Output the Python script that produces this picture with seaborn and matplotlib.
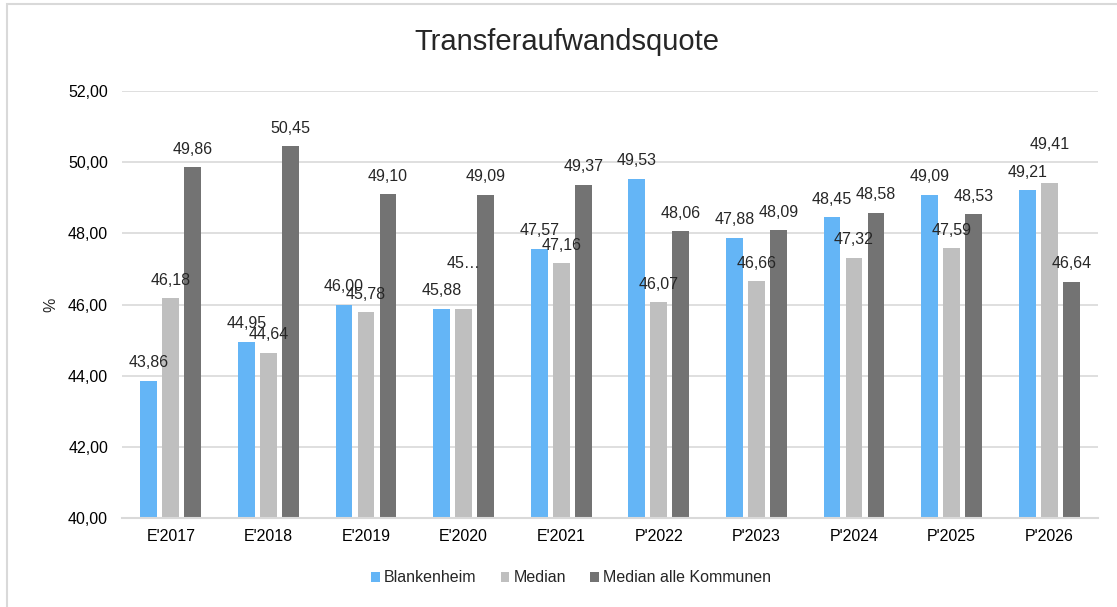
import pandas as pd
import numpy as np
import matplotlib.pyplot as plt
import seaborn as sns
from matplotlib.patches import Patch, Rectangle

# values
jahre = ["E'2017", "E'2018", "E'2019", "E'2020", "E'2021",
         "P'2022", "P'2023", "P'2024", "P'2025", "P'2026"]
blankenheim = [43.86, 44.95, 46.00, 45.88, 47.57, 49.53, 47.88, 48.45, 49.09, 49.21]
median = [46.18, 44.64, 45.78, 45.88, 47.16, 46.07, 46.66, 47.32, 47.59, 49.41]
median_alle = [49.86, 50.45, 49.10, 49.09, 49.37, 48.06, 48.09, 48.58, 48.53, 46.64]
serien = ["Blankenheim", "Median", "Median alle Kommunen"]
farben = ["#64B5F6", "#BFBFBF", "#737373"]

df = pd.DataFrame({
    "Jahr": jahre * 3,
    "Wert": blankenheim + median + median_alle,
    "Serie": np.repeat(serien, len(jahre)),
})

sns.set_style("white")
plt.rcParams['font.family'] = ['Liberation Sans', 'DejaVu Sans']

fig, ax = plt.subplots(figsize=(11.17, 6.07), dpi=100)
fig.subplots_adjust(left=122 / 1117, right=1098 / 1117, top=1 - 91 / 607, bottom=1 - 518 / 607)

sns.barplot(data=df, x="Jahr", y="Wert", hue="Serie", palette=farben, saturation=1,
            width=0.676, gap=0.23, linewidth=0, legend=False, ax=ax)

ax.set_ylim(40, 52)
ax.set_yticks(np.arange(40, 53, 2))
ax.set_yticklabels([f"{v:.2f}".replace(".", ",") for v in np.arange(40, 53, 2)])
ax.yaxis.grid(True, color="#D9D9D9", linewidth=1.2)
ax.set_axisbelow(True)
for s in ["top", "right", "left"]:
    ax.spines[s].set_visible(False)
ax.spines["bottom"].set_color("#D9D9D9")
ax.spines["bottom"].set_linewidth(1.5)
ax.tick_params(axis="both", length=0, labelsize=11.5, colors="black")
ax.tick_params(axis="y", pad=10)
ax.tick_params(axis="x", pad=8)
ax.set_xlabel("")
ax.set_ylabel("%", fontsize=11.5, labelpad=7)

# data labels (a few are shifted like in the original)
extra_offset = {(1, 3): 20, (1, 9): 15}
label_override = {(1, 3): "45…"}
for i, cont in enumerate(ax.containers):
    for j, bar in enumerate(cont):
        h = bar.get_height()
        txt = label_override.get((i, j), f"{h:.2f}".replace(".", ","))
        ax.annotate(txt, (bar.get_x() + bar.get_width() / 2, h),
                    xytext=(0, 7.5 + extra_offset.get((i, j), 0)),
                    textcoords="offset points", ha="center", va="bottom",
                    fontsize=11.5, clip_on=False)

fig.text(567 / 1117, 1 - 42 / 607, "Transferaufwandsquote", ha="center", va="center", fontsize=21)

handles = [Patch(facecolor=c, edgecolor="none") for c in farben]
fig.legend(handles, serien, loc="center", bbox_to_anchor=(571 / 1117, 1 - 578 / 607),
           ncol=3, frameon=False, fontsize=11.5, handlelength=0.55, handleheight=0.55,
           handletextpad=0.25, columnspacing=1.5)

# chart frame
fig.patches.append(Rectangle((7 / 1117, -0.1), 1.2, 1.1 - 4 / 607, transform=fig.transFigure,
                             fill=False, edgecolor="#D9D9D9", linewidth=1.5))

plt.savefig("out.png", dpi=100)
